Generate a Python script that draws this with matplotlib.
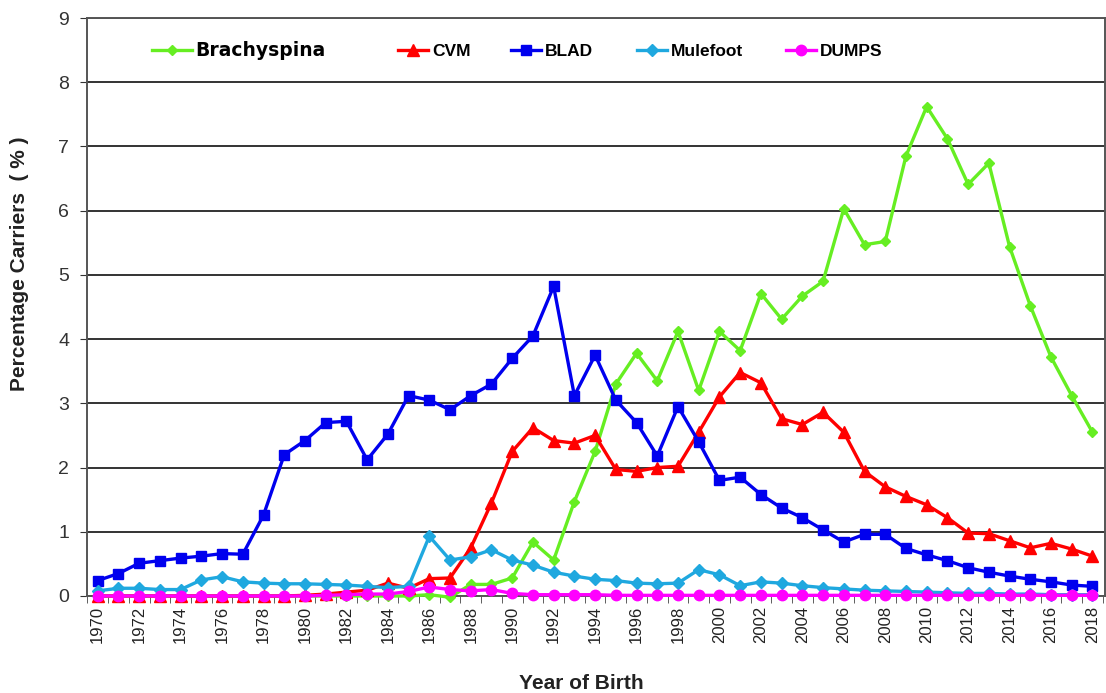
import numpy as np
import matplotlib.pyplot as plt

plt.rcParams['font.family'] = ['Liberation Sans', 'DejaVu Sans']

years = list(range(1970, 2019))

brachyspina = [0, 0, 0, 0, 0, 0, 0, 0, 0, 0,
               0, 0, 0, 0, 0, 0, 0.02, -0.02, 0.18, 0.18,
               0.28, 0.84, 0.56, 1.47, 2.25, 3.3, 3.78, 3.35, 4.12, 3.2,
               4.12, 3.82, 4.71, 4.31, 4.67, 4.9, 6.03, 5.47, 5.52, 6.85,
               7.62, 7.12, 6.41, 6.74, 5.44, 4.52, 3.72, 3.12, 2.55]
cvm = [0, 0, 0, 0, 0, 0, 0, 0, 0, 0,
       0.01, 0.03, 0.06, 0.09, 0.2, 0.12, 0.27, 0.28, 0.75, 1.45,
       2.25, 2.62, 2.42, 2.38, 2.5, 1.97, 1.94, 2.0, 2.02, 2.55,
       3.1, 3.48, 3.32, 2.76, 2.67, 2.86, 2.55, 1.94, 1.7, 1.55,
       1.42, 1.22, 0.98, 0.97, 0.86, 0.75, 0.82, 0.73, 0.62]
blad = [0.24, 0.35, 0.51, 0.55, 0.59, 0.62, 0.66, 0.65, 1.26, 2.2,
        2.42, 2.7, 2.72, 2.12, 2.52, 3.12, 3.05, 2.9, 3.12, 3.3,
        3.7, 4.05, 4.82, 3.12, 3.75, 3.05, 2.7, 2.18, 2.95, 2.4,
        1.8, 1.85, 1.58, 1.37, 1.22, 1.03, 0.84, 0.96, 0.96, 0.74,
        0.64, 0.55, 0.44, 0.37, 0.31, 0.26, 0.22, 0.17, 0.15]
mulefoot = [0.08, 0.12, 0.12, 0.1, 0.1, 0.25, 0.3, 0.22, 0.2, 0.19,
            0.19, 0.18, 0.17, 0.15, 0.13, 0.15, 0.93, 0.56, 0.61, 0.72,
            0.56, 0.48, 0.37, 0.31, 0.26, 0.24, 0.2, 0.19, 0.2, 0.41,
            0.33, 0.16, 0.22, 0.2, 0.16, 0.13, 0.11, 0.09, 0.08, 0.07,
            0.06, 0.05, 0.04, 0.04, 0.03, 0.03, 0.02, 0.02, 0.02]
dumps = [0, 0, 0, 0, 0, 0, 0, 0, 0, 0,
         0, 0.01, 0.02, 0.03, 0.03, 0.07, 0.14, 0.1, 0.08, 0.1,
         0.04, 0.02, 0.02, 0.02, 0.02, 0.01, 0.01, 0.01, 0.01, 0.01,
         0.01, 0.01, 0.01, 0.01, 0.01, 0.01, 0.01, 0.01, 0.01, 0.01,
         0.01, 0.01, 0.01, 0.01, 0.01, 0.01, 0.01, 0.01, 0.01]

fig = plt.figure(figsize=(11.06, 6.93), dpi=100, facecolor="white")
ax = fig.add_axes([0.079, 0.14, 0.92, 0.834])

# later series drawn on top, like the original spreadsheet chart
kw = dict(lw=2.4, clip_on=False)
l1, = ax.plot(years, brachyspina, color="#66EE22", marker="D", ms=5, label="Brachyspina", zorder=3, **kw)
l2, = ax.plot(years, cvm, color="#FF0000", marker="^", ms=8, label="CVM", zorder=4, **kw)
l3, = ax.plot(years, blad, color="#0000EE", marker="s", ms=7, label="BLAD", zorder=5, **kw)
l4, = ax.plot(years, mulefoot, color="#1FA8DF", marker="D", ms=6, label="Mulefoot", zorder=6, **kw)
l5, = ax.plot(years, dumps, color="#FF00FF", marker="o", ms=7.5, label="DUMPS", zorder=7, **kw)

ax.set_xlim(1969.5, 2018.6)
ax.set_ylim(0, 9)
ax.set_yticks(range(0, 10))
ax.yaxis.grid(True, color="#333333", lw=1.4)
ax.set_axisbelow(True)
ax.set_xticks(years[::2])
ax.set_xticks(np.arange(1969.5, 2019, 1), minor=True)
ax.tick_params(axis="x", which="major", length=0, labelrotation=90, labelsize=12, colors="#222222", pad=7)
ax.tick_params(axis="x", which="minor", length=5, color="#444444")
ax.tick_params(axis="y", length=5, labelsize=14, colors="#333333", pad=8)
for s in ax.spines.values():
    s.set_color("#555555")
    s.set_linewidth(1.4)

ax.set_xlabel("Year of Birth", fontsize=15, fontweight="bold", color="#222222")
ax.xaxis.set_label_coords(0.485, -0.135)
ax.set_ylabel("Percentage Carriers  ( % )", fontsize=15, fontweight="bold", color="#222222")
ax.yaxis.set_label_coords(-0.057, 0.575)

# legend entries spread across the top like the original
entries = [(l1, 152, 2.3), (l2, 398, 1.75), (l3, 511, 1.75), (l4, 637, 1.75), (l5, 786, 1.75)]
for i, (line, px, hl) in enumerate(entries):
    leg = ax.legend([line], [line.get_label()], loc="center left",
                    bbox_to_anchor=(px / 1106, 1 - 51 / 693), bbox_transform=fig.transFigure,
                    frameon=False, borderpad=0, borderaxespad=0, handlelength=hl,
                    handletextpad=0.2, markerscale=1.0,
                    prop={"weight": "bold", "size": 12.5})
    if i == 0:
        leg.get_texts()[0].set_fontfamily("DejaVu Sans")
        leg.get_texts()[0].set_fontsize(13.5)
    if i < len(entries) - 1:
        ax.add_artist(leg)

fig.savefig("out.png", dpi=100, facecolor="white")
